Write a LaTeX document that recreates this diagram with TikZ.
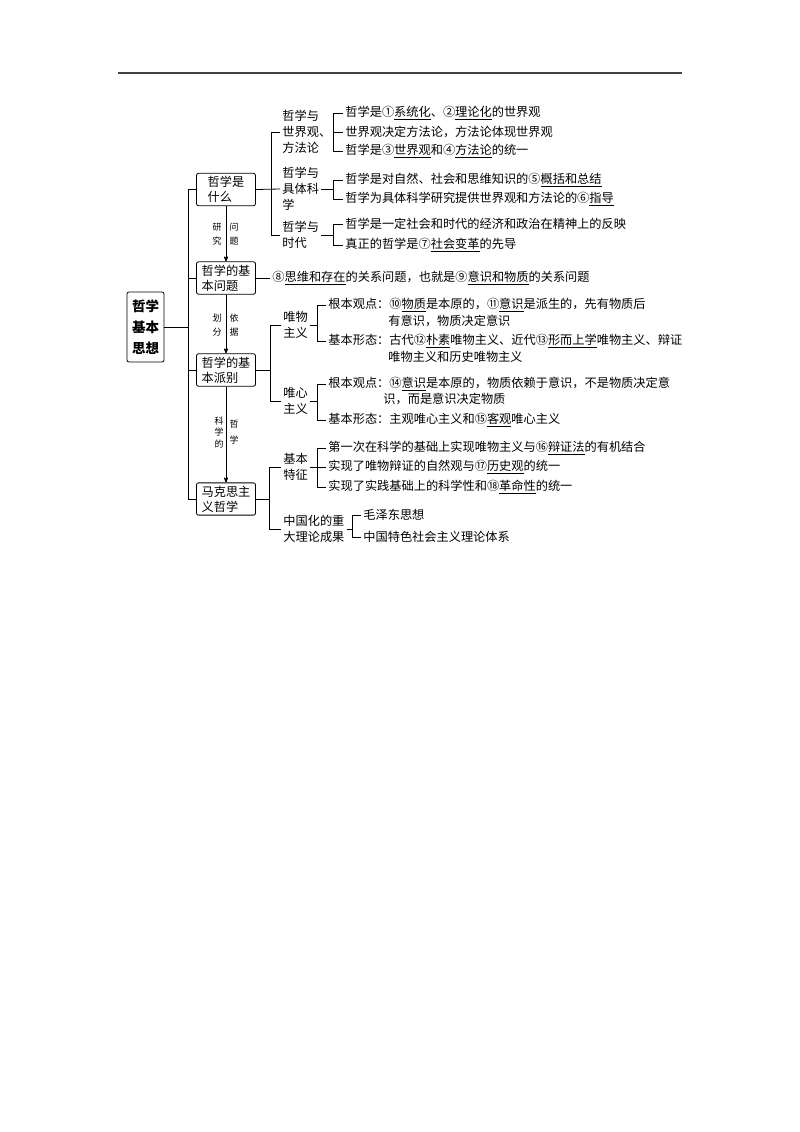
\documentclass[tikz,border=0pt]{standalone}
\usepackage{fontspec}
\newfontfamily\cjk{Noto Sans CJK SC}
\usetikzlibrary{arrows}
\newcommand\kw[1]{\underline{#1}}

\begin{document}
\begin{tikzpicture}[x=1pt,y=-1pt,>=stealth',line width=0.8pt,
	every node/.style={font=\cjk\fontsize{12.2}{16}\selectfont,inner sep=2pt},
	txt/.style={anchor=west,align=left},
	box/.style={draw,rounded corners=2pt,align=left,minimum width=59pt,minimum height=32pt,inner sep=3pt,font=\cjk\fontsize{12.2}{15}\selectfont},
	rootbox/.style={draw,rounded corners=2pt,align=center,minimum width=37pt,minimum height=70pt,font=\cjk\bfseries\fontsize{13.5}{21}\selectfont},
	tag/.style={align=center,inner sep=0pt,font=\cjk\fontsize{9}{14}\selectfont}]
	\useasboundingbox (0,0) rectangle (800,1132);
	\draw[line width=1.5pt,black!75] (118,73) -- (682,73);

	\node[rootbox] (root) at (145.5,327) {哲学\\基本\\思想};
	\node[box] (wsm) at (226,189.5) {哲学是\\什么};
	\node[box] (jbwt) at (226,278) {哲学的基\\本问题};
	\node[box] (jbpb) at (226,370) {哲学的基\\本派别};
	\node[box] (mks) at (226,499) {马克思主\\义哲学};

	\coordinate (sp1) at (188,189.5);
	\coordinate (sp4) at (188,499);
	\draw (wsm.west) -- (sp1) -- (sp4) -- (mks.west);
	\draw (root.east) -- (root.east -| sp1);
	\draw (jbwt.west) -- (jbwt.west -| sp1);
	\draw (jbpb.west) -- (jbpb.west -| sp1);

	\path[->] (wsm) edge (jbwt)
	(jbwt) edge (jbpb)
	(jbpb) edge (mks)
	;
	\node[tag] (yj) at (217,234) {研\\究};
	\node[tag] (wt) at (234,234) {问\\题};
	\node[tag] (hf) at (217,325) {划\\分};
	\node[tag] (yjd) at (234,325) {依\\据};
	\node[tag,font=\cjk\fontsize{9}{11.5}\selectfont] (kxd) at (219,432) {科\\学\\的};
	\node[tag,font=\cjk\fontsize{9}{16}\selectfont] (zx) at (234,432) {哲\\学};

	% 哲学是什么
	\node[txt] (sjg) at (280,132) {哲学与\\世界观、\\方法论};
	\node[txt] (kx) at (280,189) {哲学与\\具体科\\学};
	\node[txt] (sd) at (280,235) {哲学与\\时代};
	\coordinate (s1t) at (271,132);
	\coordinate (s1b) at (271,235);
	\draw (sjg.west) -- (s1t) -- (s1b) -- (sd.west);
	\draw (wsm.east) -- (kx.west);

	\node[txt] (r11) at (343,113) {哲学是①\kw{系统化}、②\kw{理论化}的世界观};
	\node[txt] (r12) at (343,132) {世界观决定方法论，方法论体现世界观};
	\node[txt] (r13) at (343,151) {哲学是③\kw{世界观}和④\kw{方法论}的统一};
	\coordinate (b1) at (333,151);
	\draw (r11.west) -| (b1) -- (r13.west);
	\draw (sjg.east) -- (r12.west);

	\node[txt] (r21) at (343,180) {哲学是对自然、社会和思维知识的⑤\kw{概括和总结}};
	\node[txt] (r22) at (343,199) {哲学为具体科学研究提供世界观和方法论的⑥\kw{指导}};
	\coordinate (b2) at (333,199);
	\draw (r21.west) -| (b2) -- (r22.west);
	\draw (kx.east) -- (kx.east -| b2);

	\node[txt] (r31) at (343,224) {哲学是一定社会和时代的经济和政治在精神上的反映};
	\node[txt] (r32) at (343,245) {真正的哲学是⑦\kw{社会变革}的先导};
	\coordinate (b3) at (333,245);
	\draw (r31.west) -| (b3) -- (r32.west);
	\draw (sd.east) -- (sd.east -| b3);

	% 哲学的基本问题
	\node[txt] (r8) at (270,278) {⑧\kw{思维和存在}的关系问题，也就是⑨\kw{意识和物质}的关系问题};
	\draw (jbwt.east) -- (r8.west);

	% 哲学的基本派别
	\node[txt] (wz) at (281,325) {唯物\\主义};
	\node[txt] (wx) at (281,401) {唯心\\主义};
	\coordinate (s3t) at (270,325);
	\coordinate (s3b) at (270,401);
	\draw (wz.west) -- (s3t) -- (s3b) -- (wx.west);
	\draw (jbpb.east) -- (jbpb.east -| s3t);

	\node[txt] (r41) at (326,305) {根本观点：⑩\kw{物质}是本原的，⑪\kw{意识}是派生的，先有物质后};
	\node[txt] (r41b) at (386,321) {有意识，物质决定意识};
	\node[txt] (r42) at (326,341) {基本形态：古代⑫\kw{朴素}唯物主义、近代⑬\kw{形而上学}唯物主义、辩证};
	\node[txt] (r42b) at (386,357) {唯物主义和历史唯物主义};
	\coordinate (b4) at (317,341);
	\draw (r41.west) -| (b4) -- (r42.west);
	\draw (wz.east) -- (wz.east -| b4);

	\node[txt] (r51) at (326,384) {根本观点：⑭\kw{意识}是本原的，物质依赖于意识，不是物质决定意};
	\node[txt] (r51b) at (381,399) {识，而是意识决定物质};
	\node[txt] (r52) at (326,420) {基本形态：主观唯心主义和⑮\kw{客观}唯心主义};
	\coordinate (b5) at (317,420);
	\draw (r51.west) -| (b5) -- (r52.west);
	\draw (wx.east) -- (wx.east -| b5);

	% 马克思主义哲学
	\node[txt] (jbtz) at (281,467) {基本\\特征};
	\node[txt] (zgh) at (281,529) {中国化的重\\大理论成果};
	\coordinate (s4t) at (269,467);
	\coordinate (s4b) at (269,529);
	\draw (jbtz.west) -- (s4t) -- (s4b) -- (zgh.west);
	\draw (mks.east) -- (mks.east -| s4t);

	\node[txt] (r61) at (326,448) {第一次在科学的基础上实现唯物主义与⑯\kw{辩证法}的有机结合};
	\node[txt] (r62) at (326,467) {实现了唯物辩证的自然观与⑰\kw{历史观}的统一};
	\node[txt] (r63) at (326,487) {实现了实践基础上的科学性和⑱\kw{革命性}的统一};
	\coordinate (b6) at (317,487);
	\draw (r61.west) -| (b6) -- (r63.west);
	\draw (jbtz.east) -- (r62.west);

	\node[txt] (r71) at (361,515) {毛泽东思想};
	\node[txt] (r72) at (361,537) {中国特色社会主义理论体系};
	\coordinate (b7) at (352,537);
	\draw (r71.west) -| (b7) -- (r72.west);
	\draw (zgh.east) -- (zgh.east -| b7);
\end{tikzpicture}
\end{document}
